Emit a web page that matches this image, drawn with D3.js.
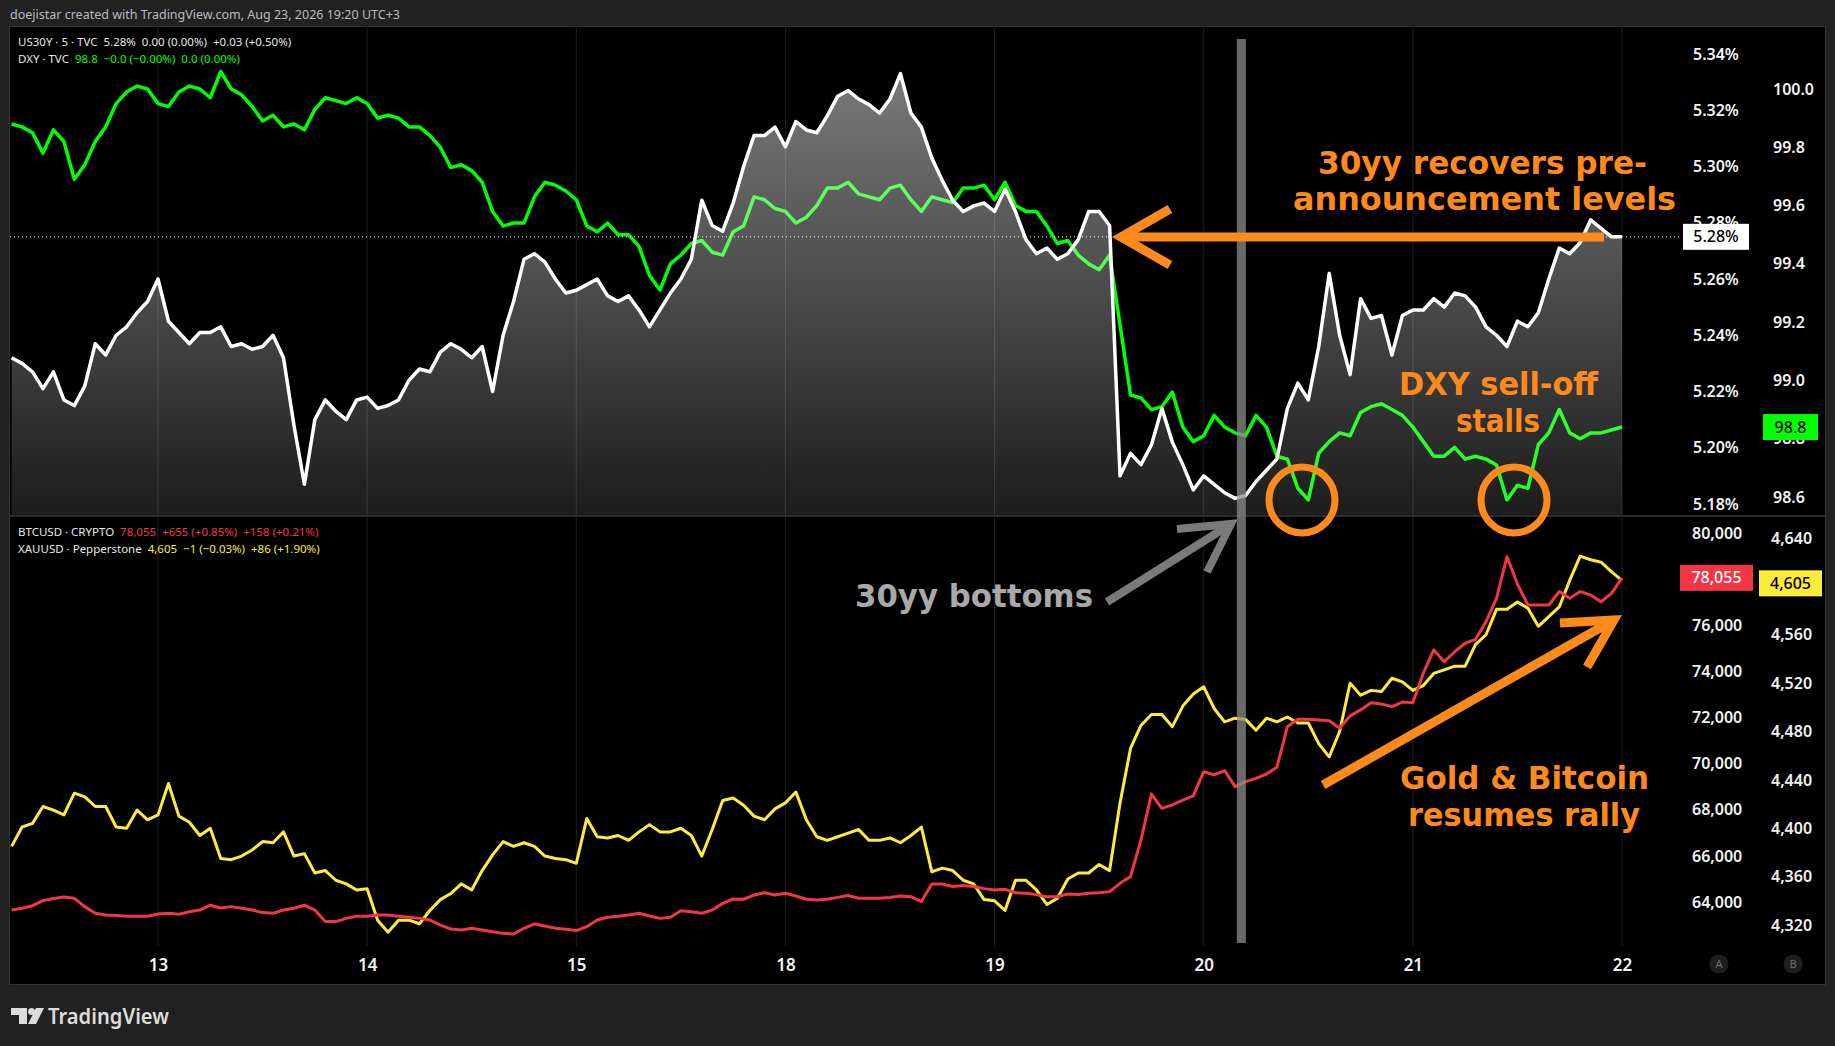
<!DOCTYPE html>
<html>
<head>
<meta charset="utf-8">
<script src="https://cdn.jsdelivr.net/npm/d3@7"></script>
<style>
  html, body { margin: 0; padding: 0; background: #212121; }
  svg { display: block; }
  text { font-family: "Noto Sans", "Open Sans", sans-serif; }
  .legend { white-space: pre; }
</style>
</head>
<body>
<svg id="chart" width="1835" height="1046"></svg>
<script>
(function() {
  // trading days on the time axis (weekend 16/17 is skipped)
  var dayLabels = ['13', '14', '15', '18', '19', '20', '21', '22'];
  // one sample every 0.05 session day, first sample 0.7 day before the 13th
  var firstBar = -0.70, barStep = 0.05;

  var us30y = [
    5.232, 5.230, 5.227, 5.221, 5.227, 5.217, 5.215, 5.222, 5.237, 5.233,
    5.240, 5.243, 5.248, 5.252, 5.260, 5.245, 5.241, 5.237, 5.241, 5.241,
    5.243, 5.236, 5.237, 5.235, 5.236, 5.240, 5.232, 5.208, 5.187, 5.210,
    5.217, 5.213, 5.210, 5.217, 5.218, 5.214, 5.215, 5.217, 5.224, 5.228,
    5.227, 5.234, 5.237, 5.235, 5.232, 5.236, 5.220, 5.240, 5.252, 5.267,
    5.269, 5.266, 5.260, 5.255, 5.256, 5.258, 5.260, 5.254, 5.252, 5.254,
    5.249, 5.243, 5.249, 5.255, 5.260, 5.267, 5.288, 5.279, 5.277, 5.287,
    5.300, 5.311, 5.311, 5.314, 5.307, 5.316, 5.313, 5.312, 5.318, 5.325,
    5.327, 5.324, 5.322, 5.319, 5.324, 5.333, 5.319, 5.314, 5.303, 5.295,
    5.288, 5.284, 5.286, 5.287, 5.284, 5.292, 5.284, 5.274, 5.269, 5.271,
    5.267, 5.269, 5.274, 5.284, 5.284, 5.279, 5.190, 5.198, 5.194, 5.201,
    5.214, 5.202, 5.194, 5.185, 5.190, 5.187, 5.184, 5.182, 5.183, 5.188,
    5.192, 5.196, 5.214, 5.223, 5.217, 5.236, 5.262, 5.240, 5.226, 5.253,
    5.246, 5.247, 5.233, 5.247, 5.249, 5.249, 5.253, 5.250, 5.255, 5.254,
    5.250, 5.243, 5.240, 5.236, 5.245, 5.243, 5.248, 5.260, 5.271, 5.269,
    5.273, 5.281, 5.278, 5.275, 5.275
  ];

  var dxy = [
    99.88, 99.87, 99.85, 99.78, 99.86, 99.82, 99.69, 99.74, 99.82, 99.87,
    99.95, 99.99, 100.01, 100.00, 99.95, 99.94, 99.99, 100.01, 100.00, 99.97,
    100.06, 100.00, 99.98, 99.94, 99.89, 99.91, 99.87, 99.88, 99.86, 99.93,
    99.97, 99.96, 99.95, 99.97, 99.95, 99.90, 99.91, 99.90, 99.87, 99.87,
    99.84, 99.80, 99.73, 99.74, 99.72, 99.68, 99.58, 99.53, 99.54, 99.54,
    99.63, 99.68, 99.67, 99.65, 99.62, 99.53, 99.51, 99.54, 99.50, 99.50,
    99.46, 99.36, 99.31, 99.40, 99.43, 99.47, 99.48, 99.44, 99.43, 99.51,
    99.53, 99.63, 99.62, 99.59, 99.58, 99.54, 99.56, 99.60, 99.66, 99.66,
    99.68, 99.64, 99.63, 99.62, 99.66, 99.67, 99.62, 99.58, 99.63, 99.62,
    99.61, 99.66, 99.66, 99.67, 99.62, 99.68, 99.60, 99.58, 99.58, 99.53,
    99.47, 99.48, 99.43, 99.40, 99.38, 99.43, 99.19, 98.95, 98.94, 98.90,
    98.91, 98.96, 98.84, 98.79, 98.81, 98.88, 98.84, 98.82, 98.81, 98.88,
    98.84, 98.74, 98.73, 98.63, 98.59, 98.75, 98.79, 98.82, 98.81, 98.89,
    98.91, 98.92, 98.90, 98.88, 98.84, 98.79, 98.74, 98.74, 98.77, 98.73,
    98.74, 98.73, 98.71, 98.59, 98.64, 98.63, 98.78, 98.82, 98.90, 98.82,
    98.80, 98.82, 98.82, 98.83, 98.84
  ];

  var btc = [
    63650, 63730, 63840, 64060, 64150, 64220, 64160, 63800, 63510, 63440,
    63410, 63380, 63380, 63380, 63480, 63510, 63470, 63580, 63650, 63860,
    63740, 63800, 63730, 63650, 63540, 63510, 63650, 63730, 63860, 63650,
    63150, 63150, 63290, 63380, 63380, 63440, 63440, 63380, 63340, 63290,
    63220, 63000, 62830, 62790, 62860, 62790, 62710, 62640, 62610, 62860,
    63050, 62960, 62860, 62820, 62760, 62930, 63220, 63340, 63380, 63440,
    63510, 63390, 63290, 63340, 63620, 63580, 63510, 63650, 63940, 64130,
    64120, 64300, 64400, 64300, 64380, 64260, 64120, 64090, 64120, 64200,
    64280, 64160, 64160, 64160, 64200, 64260, 64230, 64020, 64780, 64780,
    64670, 64720, 64670, 64580, 64520, 64550, 64400, 64380, 64320, 64230,
    64230, 64350, 64330, 64380, 64400, 64450, 64810, 65100, 66690, 68680,
    68060, 68210, 68420, 68600, 69650, 69510, 69700, 69000, 69220, 69360,
    69550, 69840, 71600, 71920, 71920, 71890, 71860, 71530, 72070, 72330,
    72640, 72590, 72470, 72670, 72640, 73920, 74930, 74420, 74850, 75220,
    75390, 76160, 77170, 78970, 77790, 76880, 76880, 76880, 77460, 77170,
    77460, 77310, 77020, 77380, 78055
  ];

  var gold = [
    4385, 4401, 4404, 4418, 4415, 4411, 4429, 4426, 4418, 4418,
    4401, 4400, 4415, 4407, 4411, 4437, 4410, 4405, 4394, 4400,
    4375, 4374, 4377, 4382, 4389, 4388, 4397, 4377, 4379, 4363,
    4365, 4357, 4354, 4349, 4350, 4324, 4314, 4324, 4324, 4321,
    4332, 4341, 4346, 4354, 4349, 4365, 4378, 4389, 4385, 4388,
    4385, 4377, 4375, 4374, 4371, 4408, 4393, 4392, 4394, 4390,
    4397, 4403, 4397, 4397, 4400, 4394, 4377, 4399, 4423, 4425,
    4419, 4410, 4407, 4416, 4421, 4430, 4407, 4393, 4390, 4393,
    4396, 4399, 4390, 4390, 4392, 4388, 4394, 4401, 4364, 4367,
    4365, 4357, 4354, 4341, 4340, 4332, 4357, 4357, 4349, 4337,
    4342, 4358, 4363, 4363, 4370, 4365, 4421, 4466, 4485, 4494,
    4494, 4484, 4501, 4511, 4517, 4499, 4488, 4491, 4490, 4481,
    4491, 4488, 4492, 4487, 4487, 4470, 4459, 4480, 4520, 4510,
    4514, 4513, 4524, 4521, 4514, 4518, 4528, 4531, 4534, 4534,
    4552, 4560, 4581, 4581, 4587, 4582, 4567, 4575, 4583, 4605,
    4625, 4622, 4620, 4612, 4605
  ];

  var us30yTicks = [5.18, 5.20, 5.22, 5.24, 5.26, 5.28, 5.30, 5.32, 5.34];
  var dxyTicks = [98.6, 98.8, 99.0, 99.2, 99.4, 99.6, 99.8, 100.0];
  var btcTicks = [64000, 66000, 68000, 70000, 72000, 74000, 76000, 78000, 80000];
  var goldTicks = [4320, 4360, 4400, 4440, 4480, 4520, 4560, 4640];
  var markerDay = 5.18;  // "30yy bottoms" marker, early on the 20th

  var W = 1835, H = 1046;
  var plotLeft = 10, plotRight = 1680;
  var topPane = [26, 516], bottomPane = [516, 946];
  var orange = '#ff8a1c';

  var x = d3.scaleLinear().domain([0, 7]).range([158, 1622]);
  var yRate = d3.scaleLinear().domain([5.18, 5.34]).range([504, 54]);
  var yDxy = d3.scaleLinear().domain([98.6, 100]).range([497, 89]);
  var yBtc = d3.scaleLinear().domain([64000, 80000]).range([902, 533]);
  var yGold = d3.scaleLinear().domain([4320, 4640]).range([925, 538]);

  function barX(d, i) { return x(firstBar + i * barStep); }
  function lineFor(y) { return d3.line().x(barX).y(function(d) { return y(d); }); }

  var svg = d3.select('#chart');
  svg.append('rect').attr('width', W).attr('height', H).attr('fill', '#212121');
  svg.append('text').attr('x', 10).attr('y', 19)
    .attr('fill', '#b8bbc2').attr('font-size', 12.5)
    .text('doejistar created with TradingView.com, Aug 23, 2026 19:20 UTC+3');
  svg.append('rect').attr('x', 9.5).attr('y', 26.5).attr('width', 1816).attr('height', 958)
    .attr('fill', '#000').attr('stroke', '#343434');

  var defs = svg.append('defs');
  var grad = defs.append('linearGradient').attr('id', 'rateFill')
    .attr('gradientUnits', 'userSpaceOnUse')
    .attr('x1', 0).attr('x2', 0).attr('y1', yRate(5.34)).attr('y2', topPane[1]);
  grad.append('stop').attr('offset', 0).attr('stop-color', '#fff').attr('stop-opacity', 0.49);
  grad.append('stop').attr('offset', 1).attr('stop-color', '#fff').attr('stop-opacity', 0.11);

  defs.append('clipPath').attr('id', 'clipTop').append('rect')
    .attr('x', plotLeft).attr('y', topPane[0]).attr('width', plotRight - plotLeft).attr('height', topPane[1] - topPane[0]);
  defs.append('clipPath').attr('id', 'clipBottom').append('rect')
    .attr('x', plotLeft).attr('y', bottomPane[0]).attr('width', plotRight - plotLeft).attr('height', bottomPane[1] - bottomPane[0]);

  // day grid
  svg.append('g').selectAll('line').data(d3.range(dayLabels.length)).enter().append('line')
    .attr('x1', function(d) { return x(d); }).attr('x2', function(d) { return x(d); })
    .attr('y1', topPane[0]).attr('y2', bottomPane[1])
    .attr('stroke', '#1f1f1f').attr('stroke-width', 1);

  // top pane: DXY under the translucent yield area
  var topG = svg.append('g').attr('clip-path', 'url(#clipTop)');
  topG.append('path').datum(dxy).attr('d', lineFor(yDxy))
    .attr('fill', 'none').attr('stroke', '#00ff00').attr('stroke-width', 3.5).attr('stroke-linejoin', 'round');
  topG.append('path').datum(us30y)
    .attr('d', d3.area().x(barX).y0(topPane[1]).y1(function(d) { return yRate(d); }))
    .attr('fill', 'url(#rateFill)');
  topG.append('line')
    .attr('x1', plotLeft).attr('x2', plotRight)
    .attr('y1', yRate(us30y[us30y.length - 1])).attr('y2', yRate(us30y[us30y.length - 1]))
    .attr('stroke', '#fff').attr('stroke-width', 1).attr('stroke-dasharray', '1,3');
  topG.append('path').datum(us30y).attr('d', lineFor(yRate))
    .attr('fill', 'none').attr('stroke', '#fff').attr('stroke-width', 3.5).attr('stroke-linejoin', 'round');

  svg.append('line').attr('x1', plotLeft).attr('x2', 1825).attr('y1', topPane[1]).attr('y2', topPane[1])
    .attr('stroke', '#2c2c2c').attr('stroke-width', 2);

  // bottom pane
  var botG = svg.append('g').attr('clip-path', 'url(#clipBottom)');
  botG.append('path').datum(gold).attr('d', lineFor(yGold))
    .attr('fill', 'none').attr('stroke', '#ffeb3b').attr('stroke-width', 3).attr('stroke-linejoin', 'round');
  botG.append('path').datum(btc).attr('d', lineFor(yBtc))
    .attr('fill', 'none').attr('stroke', '#f23645').attr('stroke-width', 3).attr('stroke-linejoin', 'round');

  // price scales
  function priceAxis(scale, ticks, fmt, left) {
    var g = svg.append('g').attr('transform', 'translate(' + left + ',0)')
      .call(d3.axisRight(scale).tickValues(ticks).tickFormat(fmt).tickSize(0).tickPadding(0));
    g.select('.domain').remove();
    g.selectAll('text').attr('fill', '#f2f2f2').attr('font-size', 16).attr('font-weight', 600)
      .style('font-family', '"Noto Sans", sans-serif');
    return g;
  }
  priceAxis(yRate, us30yTicks, function(d) { return d.toFixed(2) + '%'; }, 1693);
  priceAxis(yDxy, dxyTicks, function(d) { return d.toFixed(1); }, 1773);
  priceAxis(yBtc, btcTicks, d3.format(','), 1692);
  priceAxis(yGold, goldTicks, d3.format(','), 1771);

  // last value boxes
  function valueBox(left, w, y, label, fill, color) {
    svg.append('rect').attr('x', left).attr('y', y - 13).attr('width', w).attr('height', 26).attr('fill', fill);
    svg.append('text').attr('x', left + w / 2).attr('y', y).attr('dy', '0.35em')
      .attr('text-anchor', 'middle').attr('fill', color).attr('font-size', 16).attr('font-weight', 500)
      .text(label);
  }
  valueBox(1683, 66, yRate(us30y[us30y.length - 1]), '5.28%', '#ffffff', '#000');
  valueBox(1763, 55, yDxy(dxy[dxy.length - 1]), '98.8', '#00ff00', '#000');
  valueBox(1680, 73, yBtc(btc[btc.length - 1]), d3.format(',')(btc[btc.length - 1]), '#f23645', '#fff');
  valueBox(1759, 63, yGold(gold[gold.length - 1]) + 3, d3.format(',')(gold[gold.length - 1]), '#ffeb3b', '#000');

  // time axis
  var tg = svg.append('g')
    .call(d3.axisBottom(x).tickValues(d3.range(dayLabels.length))
      .tickFormat(function(i) { return dayLabels[i]; }).tickSize(0));
  tg.select('.domain').remove();
  tg.selectAll('text').attr('y', 965).attr('dy', '0.35em')
    .attr('fill', '#f2f2f2').attr('font-size', 17).attr('font-weight', 600)
    .style('font-family', '"Noto Sans", sans-serif');

  [['A', 1719], ['B', 1793]].forEach(function(b) {
    svg.append('circle').attr('cx', b[1]).attr('cy', 964).attr('r', 9.5).attr('fill', '#1f1f1f');
    svg.append('text').attr('x', b[1]).attr('y', 964).attr('dy', '0.35em').attr('text-anchor', 'middle')
      .attr('fill', '#6f6f6f').attr('font-size', 11).text(b[0]);
  });

  // legends
  function legend(y, name, values, color) {
    var t = svg.append('text').attr('class', 'legend').attr('x', 18).attr('y', y).attr('font-size', 11.5);
    t.append('tspan').attr('fill', '#e6e6e6').text(name + '  ');
    t.append('tspan').attr('fill', color).text(values);
  }
  legend(46, 'US30Y · 5 · TVC', '5.28%  0.00 (0.00%)  +0.03 (+0.50%)', '#e6e6e6');
  legend(63, 'DXY · TVC', '98.8  −0.0 (−0.00%)  0.0 (0.00%)', '#00ff00');
  legend(536, 'BTCUSD · CRYPTO', '78,055  +655 (+0.85%)  +158 (+0.21%)', '#f23645');
  legend(553, 'XAUUSD · Pepperstone', '4,605  −1 (−0.03%)  +86 (+1.90%)', '#ffeb3b');

  // vertical marker where the 30y bottomed
  svg.append('line').attr('x1', x(markerDay)).attr('x2', x(markerDay)).attr('y1', 39).attr('y2', 943)
    .attr('stroke', '#8c8c8c').attr('stroke-opacity', 0.75).attr('stroke-width', 9);

  // annotations
  function note(tx, ty, str, len, color) {
    svg.append('text').attr('x', tx).attr('y', ty).attr('fill', color)
      .attr('font-size', 32).attr('font-weight', 'bold')
      .attr('textLength', len).attr('lengthAdjust', 'spacingAndGlyphs')
      .style('font-family', '"DejaVu Sans", sans-serif')
      .text(str);
  }
  function arrow(from, tip, armA, armB, color, w) {
    var g = svg.append('g').attr('fill', 'none').attr('stroke', color).attr('stroke-width', w);
    g.append('line').attr('x1', from[0]).attr('y1', from[1]).attr('x2', tip[0]).attr('y2', tip[1]);
    g.append('path').attr('d', 'M' + armA + 'L' + tip + 'L' + armB).attr('stroke-linejoin', 'miter');
  }

  note(1318, 174, '30yy recovers pre-', 329, orange);
  note(1293, 210, 'announcement levels', 383, orange);
  arrow([1604, 237], [1121, 237], [1170, 209], [1170, 265], orange, 9);

  note(1399, 395, 'DXY sell-off', 199, orange);
  note(1456, 432, 'stalls', 84, orange);
  svg.append('ellipse').attr('cx', 1302).attr('cy', 500).attr('rx', 33).attr('ry', 33)
    .attr('fill', 'none').attr('stroke', orange).attr('stroke-width', 7);
  svg.append('ellipse').attr('cx', 1514).attr('cy', 500).attr('rx', 33).attr('ry', 33)
    .attr('fill', 'none').attr('stroke', orange).attr('stroke-width', 7);

  note(855, 607, '30yy bottoms', 238, '#a9a9a9');
  arrow([1107, 602], [1231, 524], [1177, 529], [1207, 572], '#7a7a7a', 8);

  arrow([1323, 785], [1614, 620], [1560, 623], [1587, 667], orange, 9);
  note(1400, 789, 'Gold & Bitcoin', 249, orange);
  note(1408, 826, 'resumes rally', 232, orange);

  // footer logo
  var logo = svg.append('g').attr('fill', '#dcdcdc');
  logo.append('path').attr('d', 'M11,1008 H27 V1024 H19 V1015 H11 Z');
  logo.append('circle').attr('cx', 31.5).attr('cy', 1011.5).attr('r', 3.5);
  logo.append('path').attr('d', 'M36,1008 H44 L36,1024 H28 Z');
  logo.append('text').attr('x', 48).attr('y', 1024).attr('font-size', 21).attr('font-weight', 600)
    .attr('textLength', 121).attr('lengthAdjust', 'spacingAndGlyphs').text('TradingView');
})();
</script>
</body>
</html>
